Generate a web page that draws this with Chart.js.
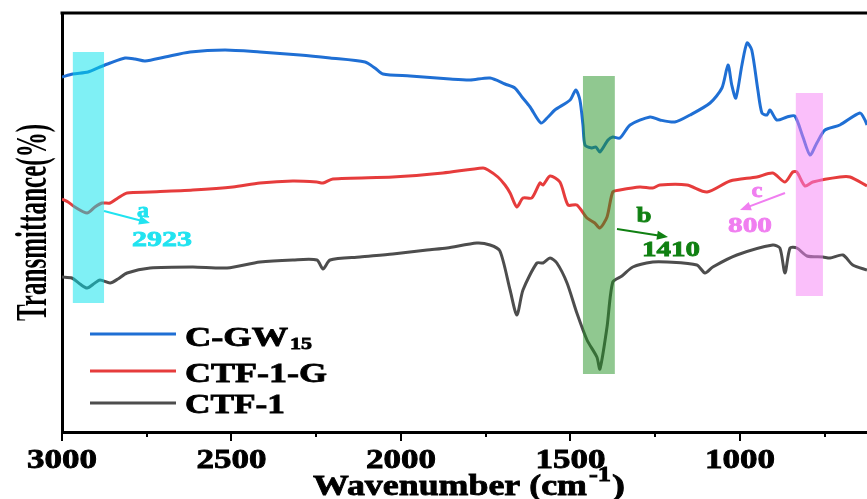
<!DOCTYPE html>
<html>
<head>
<meta charset="utf-8">
<script src="https://cdn.jsdelivr.net/npm/chart.js@4/dist/chart.umd.min.js"></script>
<style>
  html, body { margin: 0; padding: 0; background: #fff; }
  canvas { display: block; }
</style>
</head>
<body>
<canvas id="ftir" width="867" height="499"></canvas>
<script>
// --- Data (wavenumber in cm-1, transmittance in arbitrary offset units) ---
const seriesNames = ['C-GW', 'CTF-1-G', 'CTF-1'];

const wnBlue = [3000, 2968, 2923, 2888, 2858, 2814, 2785, 2755, 2696, 2622, 2519, 2416, 2298, 2209, 2106, 2077, 2053, 1973, 1855, 1796, 1737, 1693, 1664, 1643, 1619, 1587, 1566, 1546, 1501, 1484, 1472, 1463, 1457, 1437, 1425, 1413, 1389, 1375, 1354, 1324, 1265, 1236, 1192, 1147, 1088, 1053, 1035, 1024, 1012, 994, 979, 965, 947, 935, 920, 911, 891, 861, 838, 814, 793, 773, 749, 705, 646, 631, 625];
const tBlue = [355, 358, 360, 365, 369, 374, 373, 371, 375, 380, 382, 380, 377, 374, 370, 364, 358, 356, 353, 352, 354, 348, 344, 335, 325, 309, 315, 322, 332, 342, 332, 307, 287, 284, 285, 280, 292, 295, 294, 307, 315, 312, 310, 317, 329, 344, 367, 347, 334, 367, 389, 382, 342, 319, 317, 322, 312, 315, 316, 295, 277, 289, 302, 307, 319, 312, 307];

const wnRed = [3000, 2982, 2962, 2926, 2903, 2882, 2858, 2835, 2808, 2740, 2614, 2496, 2416, 2319, 2248, 2230, 2201, 2024, 1876, 1758, 1743, 1714, 1693, 1678, 1658, 1640, 1614, 1590, 1581, 1560, 1531, 1507, 1481, 1451, 1428, 1413, 1392, 1375, 1354, 1295, 1257, 1236, 1156, 1097, 1029, 950, 903, 867, 844, 832, 808, 785, 705, 675, 625];
const tRed = [233, 230, 225, 219, 225, 229, 229, 234, 239, 240, 242, 245, 249, 251, 250, 249, 253, 255, 259, 264, 262, 255, 247, 239, 225, 234, 234, 249, 247, 256, 250, 227, 227, 214, 209, 204, 215, 240, 242, 245, 244, 247, 247, 240, 251, 255, 259, 250, 260, 260, 246, 250, 255, 255, 246];

const wnGray = [3000, 2971, 2947, 2926, 2903, 2888, 2858, 2835, 2808, 2740, 2614, 2513, 2416, 2319, 2248, 2230, 2209, 2121, 2024, 1923, 1864, 1776, 1737, 1708, 1678, 1658, 1640, 1599, 1581, 1560, 1540, 1510, 1481, 1451, 1422, 1413, 1392, 1375, 1348, 1316, 1257, 1215, 1127, 1103, 1080, 1009, 903, 882, 867, 852, 832, 802, 755, 734, 696, 667, 625];
const tGray = [155, 154, 148, 144, 149, 152, 149, 153, 159, 164, 165, 164, 170, 172, 172, 163, 172, 175, 178, 182, 184, 189, 187, 181, 142, 117, 142, 169, 169, 174, 169, 149, 119, 92, 75, 63, 105, 150, 156, 165, 170, 170, 167, 159, 165, 177, 187, 184, 159, 184, 184, 176, 175, 174, 177, 167, 162];

const tickValues = [3000, 2500, 2000, 1500, 1000];
const minorTickValues = [2750, 2250, 1750, 1250, 750];
const bandLabels = ['a', 'b', 'c'];
const bandPeaks = ['2923', '1410', '800'];

const FONT = '"Liberation Serif", "Times New Roman", serif';
const BLUE = '#1f6fd4', RED = '#e63c3c', GRAY = '#4d4d4d';

function toXY(xs, ys) {
  return xs.map((x, i) => ({ x: x, y: ys[i] }));
}

// draw text squeezed/stretched horizontally to a given width (a thin stroke adds weight)
function fitText(ctx, text, x, y, font, color, width, align) {
  ctx.save();
  ctx.font = font;
  ctx.fillStyle = color;
  ctx.strokeStyle = color;
  ctx.lineWidth = 0.8;
  ctx.textBaseline = 'alphabetic';
  ctx.textAlign = align || 'left';
  const s = width / ctx.measureText(text).width;
  ctx.translate(x, y);
  ctx.scale(s, 1);
  ctx.fillText(text, 0, 0);
  ctx.strokeText(text, 0, 0);
  ctx.restore();
}

function arrow(ctx, x1, y1, x2, y2, color) {
  const a = Math.atan2(y2 - y1, x2 - x1);
  ctx.save();
  ctx.strokeStyle = color;
  ctx.fillStyle = color;
  ctx.lineWidth = 2;
  ctx.beginPath();
  ctx.moveTo(x1, y1);
  ctx.lineTo(x2 - 8 * Math.cos(a), y2 - 8 * Math.sin(a));
  ctx.stroke();
  ctx.beginPath();
  ctx.moveTo(x2, y2);
  ctx.lineTo(x2 - 11 * Math.cos(a) + 4.5 * Math.sin(a), y2 - 11 * Math.sin(a) - 4.5 * Math.cos(a));
  ctx.lineTo(x2 - 11 * Math.cos(a) - 4.5 * Math.sin(a), y2 - 11 * Math.sin(a) + 4.5 * Math.cos(a));
  ctx.closePath();
  ctx.fill();
  ctx.restore();
}

// highlighted bands: wavenumber range and vertical extent (plot units)
const bands = [
  { from: 2968, to: 2876, lo: 129, hi: 380, color: 'rgba(0, 226, 235, 0.5)' },
  { from: 1463, to: 1369, lo: 58, hi: 356, color: 'rgba(34, 146, 34, 0.5)' },
  { from: 835, to: 755, lo: 136, hi: 339, color: 'rgba(246, 128, 246, 0.5)' }
];

const decorPlugin = {
  id: 'decor',
  afterDatasetsDraw(chart) {
    const ctx = chart.ctx, xs = chart.scales.x, ys = chart.scales.y;
    bands.forEach(b => {
      const x1 = xs.getPixelForValue(b.from), x2 = xs.getPixelForValue(b.to);
      const y1 = ys.getPixelForValue(b.hi), y2 = ys.getPixelForValue(b.lo);
      ctx.save();
      ctx.fillStyle = b.color;
      ctx.fillRect(x1, y1, x2 - x1, y2 - y1);
      ctx.restore();
    });
  },
  afterDraw(chart) {
    const ctx = chart.ctx, xs = chart.scales.x, area = chart.chartArea;

    // top frame line
    ctx.save();
    ctx.strokeStyle = '#000';
    ctx.lineWidth = 3;
    ctx.beginPath();
    ctx.moveTo(area.left - 1.5, area.top);
    ctx.lineTo(area.right, area.top);
    ctx.stroke();

    // tick marks
    ctx.lineWidth = 2;
    tickValues.forEach(v => {
      const px = Math.round(xs.getPixelForValue(v));
      ctx.beginPath(); ctx.moveTo(px, area.bottom); ctx.lineTo(px, area.bottom + 9); ctx.stroke();
    });
    minorTickValues.forEach(v => {
      const px = Math.round(xs.getPixelForValue(v));
      ctx.beginPath(); ctx.moveTo(px, area.bottom); ctx.lineTo(px, area.bottom + 5); ctx.stroke();
    });
    ctx.restore();

    // tick labels
    tickValues.forEach(v => {
      fitText(ctx, String(v), xs.getPixelForValue(v), 468, 'bold 27px ' + FONT, '#000', 70, 'center');
    });

    // x axis title
    fitText(ctx, 'Wavenumber (cm', 313, 495, 'bold 30px ' + FONT, '#000', 274, 'left');
    fitText(ctx, '-1', 589, 481, 'bold 20px ' + FONT, '#000', 22, 'left');
    fitText(ctx, ')', 612, 495, 'bold 30px ' + FONT, '#000', 13, 'left');

    // y axis title (rotated)
    ctx.save();
    ctx.font = 'bold 44px ' + FONT;
    ctx.fillStyle = '#000';
    ctx.textAlign = 'center';
    ctx.textBaseline = 'alphabetic';
    const ytxt = 'Transmittance(%)';
    const s = 197 / ctx.measureText(ytxt).width;
    ctx.translate(46, (area.top + area.bottom) / 2);
    ctx.rotate(-Math.PI / 2);
    ctx.scale(s, 1);
    ctx.fillText(ytxt, 0, 0);
    ctx.restore();

    // legend
    const rows = [
      { color: BLUE, y: 334, base: 346 },
      { color: RED, y: 371, base: 382 },
      { color: GRAY, y: 403, base: 413 }
    ];
    rows.forEach(r => {
      ctx.save();
      ctx.strokeStyle = r.color;
      ctx.lineWidth = 3;
      ctx.beginPath(); ctx.moveTo(90, r.y); ctx.lineTo(176, r.y); ctx.stroke();
      ctx.restore();
    });
    const lf = 'bold 28px ' + FONT;
    fitText(ctx, seriesNames[0], 185, rows[0].base, lf, '#000', 103, 'left');
    fitText(ctx, '15', 290, 349, 'bold 17px ' + FONT, '#000', 22, 'left');
    fitText(ctx, seriesNames[1], 185, rows[1].base, lf, '#000', 142, 'left');
    fitText(ctx, seriesNames[2], 185, rows[2].base, lf, '#000', 100, 'left');

    // band annotations
    const af = 'bold 22px ' + FONT;
    arrow(ctx, 104, 211, 150, 223, '#20e3f0');
    fitText(ctx, bandLabels[0], 143, 217, af, '#20e3f0', 12, 'center');
    fitText(ctx, bandPeaks[0], 162, 246, af, '#20e3f0', 60, 'center');

    arrow(ctx, 617, 229, 668, 237, '#108012');
    fitText(ctx, bandLabels[1], 644, 222, af, '#108012', 15, 'center');
    fitText(ctx, bandPeaks[1], 671, 256, af, '#108012', 58, 'center');

    arrow(ctx, 785, 193, 740, 210, '#f07ef0');
    fitText(ctx, bandLabels[2], 757, 197, af, '#f07ef0', 11, 'center');
    fitText(ctx, bandPeaks[2], 750, 232, af, '#f07ef0', 44, 'center');
  }
};

const lineStyle = {
  borderWidth: 3,
  pointRadius: 0,
  fill: false,
  tension: 0.25
};

const chart = new Chart(document.getElementById('ftir').getContext('2d'), {
  type: 'line',
  data: {
    datasets: [
      Object.assign({ label: 'CTF-1', data: toXY(wnGray, tGray), borderColor: GRAY }, lineStyle),
      Object.assign({ label: 'CTF-1-G', data: toXY(wnRed, tRed), borderColor: RED }, lineStyle),
      Object.assign({ label: 'C-GW15', data: toXY(wnBlue, tBlue), borderColor: BLUE }, lineStyle)
    ]
  },
  options: {
    responsive: false,
    animation: false,
    layout: { padding: { top: 13, left: 0, right: 0, bottom: 0 } },
    plugins: {
      legend: { display: false },
      tooltip: { enabled: false }
    },
    scales: {
      x: {
        type: 'linear',
        reverse: true,
        min: 625,
        max: 3000,
        ticks: { display: false },
        grid: { display: false },
        border: { display: true, color: '#000', width: 3 },
        afterFit: s => { s.height = 67; }
      },
      y: {
        min: 0,
        max: 419,
        ticks: { display: false },
        grid: { display: false },
        border: { display: true, color: '#000', width: 3 },
        afterFit: s => { s.width = 62; }
      }
    }
  },
  plugins: [decorPlugin]
});
</script>
</body>
</html>
